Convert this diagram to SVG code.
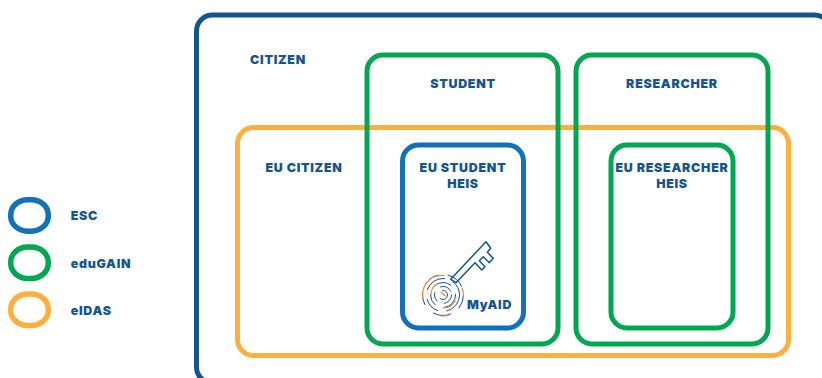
<svg xmlns="http://www.w3.org/2000/svg" width="822" height="378" viewBox="0 0 822 378">
<style>
.b{fill:none;stroke-width:5}
.navy{stroke:#15548c}.green{stroke:#00a651}.orange{stroke:#fdb040}.blue{stroke:#1271b8}
text{font-family:"Inter","Liberation Sans",sans-serif;font-weight:900;font-size:12.400px;fill:#15548c;text-anchor:middle;letter-spacing:.75px}
text.s{text-anchor:start}
.k{stroke-width:5.500}
.l{stroke-width:1;fill:none;stroke-linecap:round}
</style>
<rect width="822" height="378" fill="#fff"/>
<g id="citizen"><rect class="b navy" x="196.500" y="15" width="634" height="368" rx="16"/><text x="278" y="64">CITIZEN</text></g>
<g id="eu-citizen"><rect class="b orange" x="237.500" y="127.500" width="551" height="228" rx="16"/><text x="304" y="172">EU CITIZEN</text></g>
<g id="student"><rect class="b green" x="367" y="55" width="191" height="289" rx="16"/><text x="463" y="88">STUDENT</text></g>
<g id="researcher"><rect class="b green" x="576" y="55" width="192" height="289" rx="16"/><text x="672" y="88">RESEARCHER</text></g>
<g id="eu-student"><rect class="b blue" x="402.500" y="145" width="121" height="183" rx="16"/><text x="463" y="172">EU STUDENT</text><text x="463" y="188">HEIS</text></g>
<g id="eu-researcher"><rect class="b green" x="611" y="145" width="122" height="183" rx="16"/><text x="672" y="172">EU RESEARCHER</text><text x="672" y="188">HEIS</text></g>
<g id="myaid">
<path fill="none" stroke="#15548c" stroke-width="1.500" stroke-linejoin="round" d="M450.700 279.300L456 282.700L475 262.700L481.700 270L485 266.700L479.300 260.700L483.300 256.700L489.300 262.700L493.300 258.300L487.300 252.300L490.700 248.300L486 241.700Z"/>
<g class="l" stroke="#15548c"><circle cx="443" cy="295" r="20.500" stroke-dasharray="14 10 18 12 12 11"/><circle cx="443" cy="295" r="16.500" stroke-dasharray="22 9 16 10"/><circle cx="443" cy="295" r="12.500" stroke-dasharray="18 10 12 9"/><circle cx="443" cy="295" r="8.500" stroke-dasharray="12 8 9 8"/><circle cx="443" cy="295" r="4.500" stroke-dasharray="10 10"/></g>
<g class="l" stroke="#f58a3c" style="stroke-width:1.200"><path d="M422.500 297A20.500 20.500 0 0 1 433 277"/><path d="M437 276A20 20 0 0 1 444 275.500"/><path d="M443 308A13 13 0 0 0 455 301"/><path d="M463.500 296A20.500 20.500 0 0 0 462 288"/><path d="M441 316A21 21 0 0 0 449 315"/><path d="M431 295A12 12 0 0 1 437 284"/><path d="M441 292L445 296"/></g>
<text x="489.500" y="309">MyAID</text>
</g>
<g id="legend">
<rect class="b blue k" x="10.750" y="199.700" width="37.500" height="31.500" rx="17" ry="15"/><text class="s" x="70.700" y="220">ESC</text>
<rect class="b green k" x="10.750" y="247" width="37.500" height="31.500" rx="17" ry="15"/><text class="s" x="70.700" y="268">eduGAIN</text>
<rect class="b orange k" x="10.750" y="294" width="37.500" height="31.500" rx="17" ry="15"/><text class="s" x="70.700" y="315">eIDAS</text>
</g>
</svg>
